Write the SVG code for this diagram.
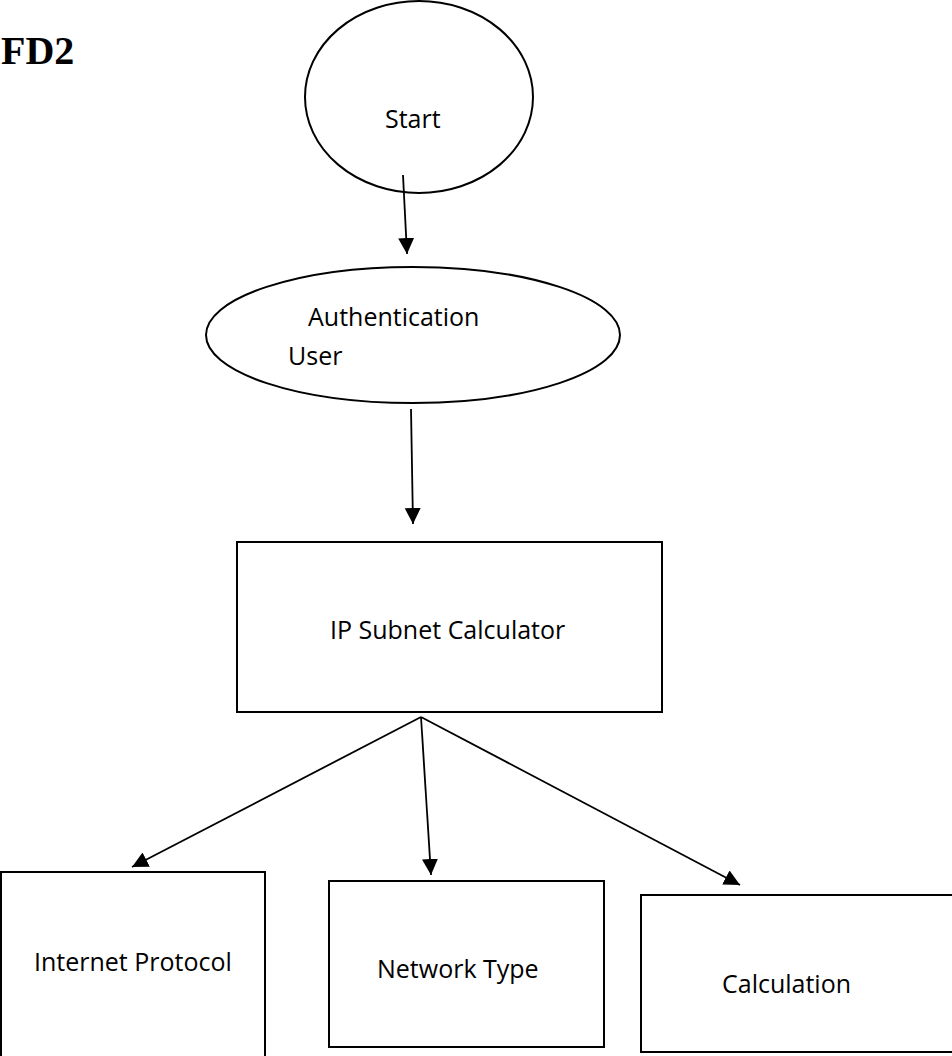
<svg xmlns="http://www.w3.org/2000/svg" width="952" height="1056" viewBox="0 0 952 1056">
  <style>
    .shape { fill: #ffffff; stroke: #000000; stroke-width: 2; }
    .lbl { font-family: "Open Sans", "Liberation Sans", sans-serif; font-size: 25px; fill: #000000; }
    .title { font-family: "Liberation Serif", "Times New Roman", serif; font-size: 40px; font-weight: bold; fill: #000000; }
    .conn { stroke: #000000; stroke-width: 1.8; fill: none; marker-end: url(#arrow); }
  </style>
  <defs>
    <marker id="arrow" markerUnits="userSpaceOnUse" markerWidth="18" markerHeight="18" refX="16" refY="8" orient="auto">
      <path d="M0,0 L16,8 L0,16 Z" fill="#000000"/>
    </marker>
  </defs>
  <rect width="952" height="1056" fill="#ffffff"/>
  <text class="title" x="1" y="64">FD2</text>

  <g id="node-start">
    <ellipse class="shape" cx="419" cy="97" rx="114" ry="96"/>
    <text class="lbl" x="385" y="128">Start</text>
  </g>
  <g id="node-auth">
    <ellipse class="shape" cx="413" cy="335" rx="207" ry="68"/>
    <text class="lbl" x="308" y="326">Authentication</text>
    <text class="lbl" x="288" y="365">User</text>
  </g>
  <g id="node-ipsubnet">
    <rect class="shape" x="237" y="542" width="425" height="170"/>
    <text class="lbl" x="330" y="639">IP Subnet Calculator</text>
  </g>
  <g id="node-internet">
    <rect class="shape" x="1" y="872" width="264" height="200"/>
    <text class="lbl" x="34" y="971">Internet Protocol</text>
  </g>
  <g id="node-network">
    <rect class="shape" x="329" y="881" width="275" height="166"/>
    <text class="lbl" x="377" y="978">Network Type</text>
  </g>
  <g id="node-calc">
    <rect class="shape" x="641" y="895" width="320" height="157"/>
    <text class="lbl" x="722" y="993">Calculation</text>
  </g>

  <g id="connectors">
    <line class="conn" x1="403" y1="175" x2="407" y2="254"/>
    <line class="conn" x1="411" y1="409" x2="413" y2="524"/>
    <line class="conn" x1="421" y1="717" x2="132" y2="867"/>
    <line class="conn" x1="421" y1="717" x2="431" y2="875"/>
    <line class="conn" x1="421" y1="717" x2="740" y2="885"/>
  </g>
</svg>
